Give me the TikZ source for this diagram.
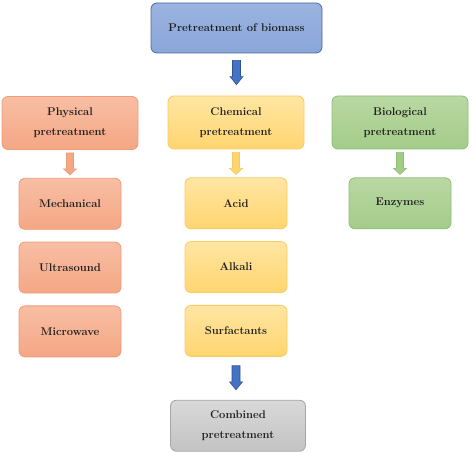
\documentclass[tikz,border=0pt]{standalone}
\usepackage{tikz}
\usetikzlibrary{positioning,calc}
\definecolor{txtdark}{HTML}{1E1E1E}
\definecolor{bluetop}{HTML}{9AB3E0}
\definecolor{bluebot}{HTML}{8AA6D9}
\definecolor{blueedge}{HTML}{4A6A9E}
\definecolor{arrowblue}{HTML}{4472C4}
\definecolor{arrowblueedge}{HTML}{2F528F}
\definecolor{phystop}{HTML}{F8BEA4}
\definecolor{physbot}{HTML}{F4A784}
\definecolor{physedge}{HTML}{EE9C7A}
\definecolor{chemtop}{HTML}{FFE6A3}
\definecolor{chembot}{HTML}{FFD56F}
\definecolor{chemedge}{HTML}{F7CB62}
\definecolor{biotop}{HTML}{B9D8A3}
\definecolor{biobot}{HTML}{A4CC89}
\definecolor{bioedge}{HTML}{8DBF74}
\definecolor{greytop}{HTML}{D9D9D9}
\definecolor{greybot}{HTML}{C3C3C3}
\definecolor{greyedge}{HTML}{A6A6A6}
\newcommand{\flowarrow}[6]{%
  \draw[#1] let \p1=(#2), \p2=(#3) in
    (\x1-#4,\y1) -- (\x1+#4,\y1) -- (\x1+#4,\y2+#6) -- (\x1+#5,\y2+#6) -- (\x1,\y2)
    -- (\x1-#5,\y2+#6) -- (\x1-#4,\y2+#6) -- cycle;}

\begin{document}
\begin{tikzpicture}[x=1pt,y=1pt,font=\fontsize{11.2}{20}\selectfont\bfseries,
  box/.style={rounded corners=6pt,align=center,line width=0.8pt,inner sep=2pt,text=txtdark},
  mainbox/.style={box,minimum width=136pt,minimum height=53pt},
  subbox/.style={box,minimum width=102pt,minimum height=51pt},
  headbox/.style={box,minimum width=171pt,minimum height=50pt,draw=blueedge,
                  top color=bluetop,bottom color=bluebot},
  physbox/.style={draw=physedge,top color=phystop,bottom color=physbot},
  chembox/.style={draw=chemedge,top color=chemtop,bottom color=chembot},
  biobox/.style={draw=bioedge,top color=biotop,bottom color=biobot},
  greybox/.style={draw=greyedge,top color=greytop,bottom color=greybot},
  bluearrow/.style={fill=arrowblue,draw=arrowblueedge,line width=0.6pt},
  physarrow/.style={fill=physbot,draw=physedge,line width=0.6pt},
  chemarrow/.style={fill=chembot,draw=chemedge,line width=0.6pt},
  bioarrow/.style={fill=biobot,draw=bioedge,line width=0.6pt}]
\useasboundingbox (0,0) rectangle (474,-454);
% top
\node[headbox] (biomass) at (236.5,-28) {Pretreatment of biomass};
% three routes
\node[mainbox,physbox] (phys) at (70,-123) {Physical\\pretreatment};
\node[mainbox,chembox] (chem) at (236,-122.5) {Chemical\\pretreatment};
\node[mainbox,biobox] (bio) at (400,-122.5) {Biological\\pretreatment};
% physical
\node[subbox,physbox,below=28pt of phys] (mech) {Mechanical};
\node[subbox,physbox,below=12pt of mech] (ultra) {Ultrasound};
\node[subbox,physbox,below=12pt of ultra] (micro) {Microwave};
% chemical
\node[subbox,chembox,below=28pt of chem] (acid) {Acid};
\node[subbox,chembox,below=12pt of acid] (alkali) {Alkali};
\node[subbox,chembox,below=12pt of alkali] (surf) {Surfactants};
% biological
\node[subbox,biobox,below=28pt of bio] (enz) {Enzymes};
% combined
\node[mainbox,greybox,minimum width=135pt,minimum height=51pt,below=43pt of surf,xshift=2pt]
     (comb) {Combined\\pretreatment};
% arrows
\flowarrow{bluearrow}{[yshift=-7pt]biomass.south}{[yshift=11pt]chem.north}{4pt}{6.5pt}{8pt}
\flowarrow{physarrow}{[yshift=-3pt]phys.south}{[yshift=3pt]mech.north}{3.5pt}{6.5pt}{6pt}
\flowarrow{chemarrow}{[yshift=-3pt]chem.south}{[yshift=3pt]acid.north}{3.5pt}{6.5pt}{6pt}
\flowarrow{bioarrow}{[yshift=-3pt]bio.south}{[yshift=3pt]enz.north}{3.5pt}{6.5pt}{6pt}
\flowarrow{bluearrow}{[yshift=-9pt]surf.south}{[yshift=10pt]comb.north}{4pt}{6.5pt}{8pt}
\end{tikzpicture}
\end{document}
